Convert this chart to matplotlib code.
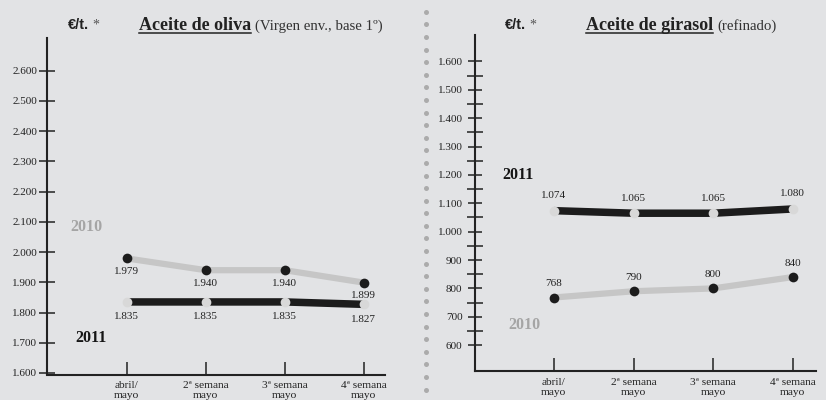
import matplotlib
matplotlib.use('Agg')
import matplotlib.pyplot as plt
from matplotlib.lines import Line2D
import numpy as np

plt.rcParams['font.family'] = ['Liberation Serif', 'DejaVu Serif']

W, H = 826, 400

# data
categories = ['abril/\nmayo', '2ª semana\nmayo', '3ª semana\nmayo', '4ª semana\nmayo']
oliva_2010 = [1979, 1940, 1940, 1899]
oliva_2011 = [1835, 1835, 1835, 1827]
girasol_2010 = [768, 790, 800, 840]
girasol_2011 = [1074, 1065, 1065, 1080]
oliva_ticks = [1600, 1700, 1800, 1900, 2000, 2100, 2200, 2300, 2400, 2500, 2600]
girasol_ticks = [600, 700, 800, 900, 1000, 1100, 1200, 1300, 1400, 1500, 1600]
girasol_minor = [650, 750, 850, 950, 1050, 1150, 1250, 1350, 1450, 1550]

bg = '#e2e3e5'
grey_line = '#c6c6c6'
grey_dot = '#d8d8d8'
black = '#1c1c1c'


def fmt(v):
    return f'{v:,}'.replace(',', '.')


def fx(x):
    return x / W


def fy(y):
    return 1 - y / H


fig = plt.figure(figsize=(W / 100, H / 100), dpi=100, facecolor=bg)

# left panel: aceite de oliva
ax1 = fig.add_axes([fx(46.7), fy(374.5), (385 - 46.7) / W, (374.5 - 38) / H])
ax1.set_ylim(1595, 2708)
ax1.set_xlim(-1.016, 3.27)

# right panel: aceite de girasol
ax2 = fig.add_axes([fx(475), fy(371), (816 - 475) / W, (371 - 35) / H])
ax2.set_ylim(509, 1693)
ax2.set_xlim(-0.99, 3.29)

for ax, ticks in [(ax1, oliva_ticks), (ax2, girasol_ticks)]:
    ax.set_facecolor('none')
    for s in ['top', 'right']:
        ax.spines[s].set_visible(False)
    for s in ['left', 'bottom']:
        ax.spines[s].set_linewidth(1.5)
        ax.spines[s].set_color('#222222')
    ax.set_yticks(ticks, [fmt(t) for t in ticks])
    ax.set_xticks(range(len(categories)), categories)
    ax.tick_params(axis='x', direction='in', length=9.5, width=1.1, pad=5,
                   labelsize=8.2, color='#222222', labelcolor='#222222')
    for lbl in ax.get_xticklabels():
        lbl.set_linespacing(1.1)

ax1.tick_params(axis='y', direction='inout', length=11.5, width=1.1, pad=1,
                labelsize=8, color='#222222', labelcolor='#222222')
ax2.tick_params(axis='y', which='major', direction='inout', length=10, width=1.1,
                pad=4, labelsize=8, color='#222222', labelcolor='#222222')
ax2.set_yticks(girasol_minor, minor=True)
ax2.tick_params(axis='y', which='minor', direction='inout', length=11, width=1.1,
                color='#222222')

x = np.arange(len(categories))

# 2010: grey line, black dots / 2011: black line, grey dots
for ax, v10, v11, off10, off11 in [(ax1, oliva_2010, oliva_2011, -9.4, -10.8),
                                   (ax2, girasol_2010, girasol_2011, 10, 10.8)]:
    ax.plot(x, v10, color=grey_line, lw=4.5, solid_capstyle='butt', zorder=2)
    ax.plot(x, v10, 'o', color=black, ms=7, mew=0, zorder=3)
    ax.plot(x, v11, color=black, lw=5.4, solid_capstyle='butt', zorder=2)
    ax.plot(x, v11, 'o', color=grey_dot, ms=7, mew=0, zorder=3)
    for xi, v in zip(x, v10):
        ax.annotate(fmt(v), (xi, v), xytext=(0, off10), textcoords='offset points',
                    ha='center', va='center', fontsize=8, color='#222222')
    for xi, v in zip(x, v11):
        ax.annotate(fmt(v), (xi, v), xytext=(0, off11), textcoords='offset points',
                    ha='center', va='center', fontsize=8, color='#222222')

# year labels
fig.text(fx(70), fy(227), '2010', fontsize=11.5, fontweight='bold', color='#a5a5a5',
         va='center', ha='left')
fig.text(fx(75), fy(338), '2011', fontsize=11.5, fontweight='bold', color='#151515',
         va='center', ha='left')
fig.text(fx(502), fy(175), '2011', fontsize=11.5, fontweight='bold', color='#151515',
         va='center', ha='left')
fig.text(fx(508), fy(325), '2010', fontsize=11.5, fontweight='bold', color='#a5a5a5',
         va='center', ha='left')

# titles
fig.canvas.draw()
renderer = fig.canvas.get_renderer()
for ux, tx, title, sub in [(68, 139, 'Aceite de oliva', '(Virgen env., base 1º)'),
                           (505, 586, 'Aceite de girasol', '(refinado)')]:
    t0 = fig.text(fx(ux), fy(29), '€/t.', fontsize=10.5, fontweight='bold',
                  family='Liberation Sans', color='#222222', va='baseline')
    bb = t0.get_window_extent(renderer)
    fig.text((bb.x1 + 3) / W, fy(29), '*', fontsize=10, color='#555555', va='baseline')
    t1 = fig.text(fx(tx), fy(29.5), title, fontsize=13, fontweight='bold',
                  color='#222222', va='baseline')
    bb = t1.get_window_extent(renderer)
    fig.add_artist(Line2D([bb.x0 / W, bb.x1 / W], [fy(32.5), fy(32.5)],
                          transform=fig.transFigure, color='#222222', lw=1.1))
    fig.text((bb.x1 + 4) / W, fy(29.5), sub, fontsize=10.7, color='#333333',
             va='baseline')

# dotted separator
dots_y = np.arange(11.7, 400, 12.6)
fig.add_artist(Line2D(np.full(len(dots_y), fx(426)), [fy(y) for y in dots_y],
                      transform=fig.transFigure, linestyle='none', marker='o',
                      ms=3.6, mew=0, color='#ababab'))

fig.savefig('out.png', dpi=100, facecolor=bg)
